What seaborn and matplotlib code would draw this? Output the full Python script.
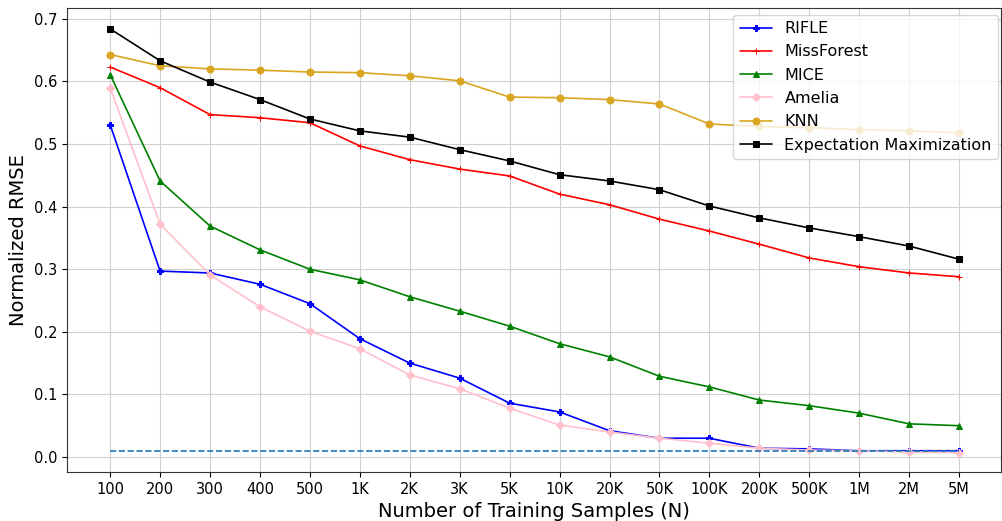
import numpy as np
import pandas as pd
import matplotlib
matplotlib.use("Agg")
import matplotlib.pyplot as plt
import seaborn as sns

sample_sizes = ["100", "200", "300", "400", "500", "1K", "2K", "3K", "5K", "10K",
                "20K", "50K", "100K", "200K", "500K", "1M", "2M", "5M"]

rifle = [0.531, 0.297, 0.294, 0.276, 0.245, 0.189, 0.150, 0.126, 0.086, 0.072,
         0.042, 0.030, 0.030, 0.014, 0.013, 0.010, 0.010, 0.010]
missforest = [0.623, 0.590, 0.547, 0.542, 0.534, 0.497, 0.475, 0.460, 0.449, 0.420,
              0.403, 0.380, 0.361, 0.340, 0.318, 0.304, 0.294, 0.288]
mice = [0.611, 0.441, 0.369, 0.331, 0.300, 0.283, 0.256, 0.233, 0.209, 0.181,
        0.160, 0.129, 0.112, 0.091, 0.082, 0.070, 0.053, 0.050]
amelia = [0.590, 0.372, 0.291, 0.240, 0.201, 0.173, 0.131, 0.109, 0.078, 0.051,
          0.040, 0.030, 0.022, 0.014, 0.011, 0.010, 0.008, 0.007]
knn = [0.643, 0.625, 0.620, 0.618, 0.615, 0.614, 0.609, 0.601, 0.575, 0.574,
       0.571, 0.564, 0.532, 0.528, 0.526, 0.523, 0.521, 0.518]
em = [0.684, 0.633, 0.599, 0.571, 0.540, 0.521, 0.511, 0.491, 0.473, 0.451,
      0.441, 0.427, 0.401, 0.382, 0.366, 0.352, 0.337, 0.316]
reference_level = 0.0096

methods = ["RIFLE", "MissForest", "MICE", "Amelia", "KNN", "Expectation Maximization"]
series = [rifle, missforest, mice, amelia, knn, em]
colors = ["blue", "red", "green", "pink", "goldenrod", "black"]
markers = ["P", "+", "^", "D", "o", "s"]
msizes = [4.5, 5, 5, 4.5, 5, 5]

sns.set_style("ticks")
plt.rcParams["font.family"] = ["DejaVu Sans"]
for key in ["text.color", "axes.labelcolor", "xtick.color", "ytick.color"]:
    plt.rcParams[key] = "black"

fig, ax = plt.subplots(figsize=(10.03, 5.21), dpi=100)
pos = np.arange(len(sample_sizes))

for name, vals, c, m, ms in zip(methods, series, colors, markers, msizes):
    df = pd.DataFrame({"pos": pos, "rmse": vals})
    sns.lineplot(data=df, x="pos", y="rmse", ax=ax, color=c, marker=m,
                 markersize=ms, markeredgecolor=c, linewidth=1.2, label=name)

ax.plot(pos, [reference_level] * len(pos), linestyle="--", color="#1f77b4",
        linewidth=1.2)

ax.set_xticks(pos)
ax.set_xticklabels(sample_sizes, fontsize=10.5)
ax.tick_params(axis="y", labelsize=10.5)
ax.set_xlim(-0.86, len(pos) - 1 + 0.84)
ax.set_ylim(-0.024, 0.7176)
yt = np.arange(0, 0.71, 0.1)
ax.set_yticks(yt)
ax.set_yticklabels([f"{v:.1f}" for v in yt])
ax.grid(True, color="#d0d0d0", linewidth=0.8)
ax.set_xlabel("Number of Training Samples (N)", fontsize=14)
ax.set_ylabel("Normalized RMSE", fontsize=14)
for s in ax.spines.values():
    s.set_visible(True)
    s.set_color("#333333")

ax.legend(loc="upper right", bbox_to_anchor=(0.997, 0.985), borderaxespad=0,
          fontsize=11.5, frameon=True, handlelength=2.0, labelspacing=0.52)

fig.subplots_adjust(left=0.067, right=0.998, top=0.985, bottom=0.094)
fig.savefig("out.png", dpi=100)
